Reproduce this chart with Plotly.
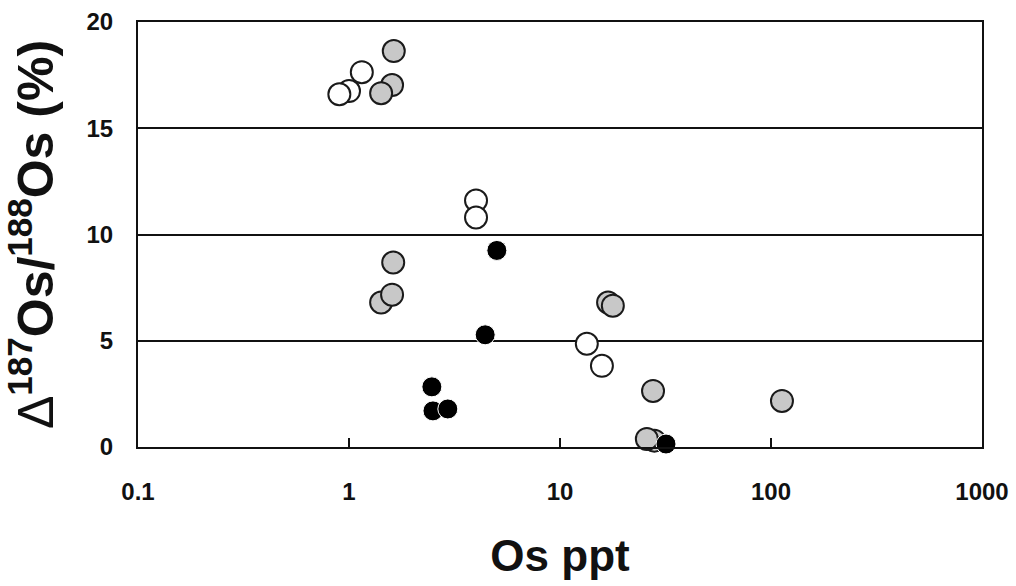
import plotly.graph_objects as go

# Data
gray_x = [1.60, 1.42, 1.63, 1.42, 1.60, 1.62, 16.9, 17.8, 27.6, 28.0, 25.8, 112.7]
gray_y = [17.03, 16.65, 18.63, 6.80, 7.17, 8.68, 6.80, 6.65, 2.64, 0.30, 0.38, 2.17]

open_x = [1.00, 0.90, 1.15, 4.0, 4.0, 13.4, 15.8]
open_y = [16.75, 16.60, 17.64, 11.6, 10.8, 4.86, 3.82]

black_x = [2.47, 2.50, 2.94, 4.42, 5.02, 31.8]
black_y = [2.83, 1.70, 1.79, 5.28, 9.25, 0.14]

x_ticks = [0.1, 1, 10, 100, 1000]
x_tick_labels = ["0.1", "1", "10", "100", "1000"]
y_ticks = [0, 5, 10, 15, 20]

FONT = "Liberation Sans, Arial, sans-serif"

fig = go.Figure()
fig.add_trace(go.Scatter(
    x=gray_x, y=gray_y, mode="markers", cliponaxis=False,
    marker=dict(size=22, color="#c8c8c8", line=dict(color="#1a1a1a", width=2)),
    showlegend=False))
fig.add_trace(go.Scatter(
    x=open_x, y=open_y, mode="markers", cliponaxis=False,
    marker=dict(size=22, color="white", line=dict(color="#1a1a1a", width=2)),
    showlegend=False))
fig.add_trace(go.Scatter(
    x=black_x, y=black_y, mode="markers", cliponaxis=False,
    marker=dict(size=20, color="black", line=dict(color="white", width=1)),
    showlegend=False))

fig.update_layout(
    width=1016, height=586,
    margin=dict(l=138, r=34, t=22, b=139),
    paper_bgcolor="white", plot_bgcolor="white",
    font=dict(family=FONT, color="#111111"),
)
fig.update_xaxes(
    type="log", range=[-1, 3], automargin=False,
    tickmode="array", tickvals=x_ticks, ticktext=x_tick_labels,
    ticks="inside", ticklen=9, tickwidth=1.5, tickcolor="#111111",
    showline=True, linecolor="#111111", linewidth=2, mirror=True,
    showgrid=False, zeroline=False,
    tickfont=dict(family=FONT, size=24, color="#111111", weight="bold"),
    ticklabelstandoff=22,
    title=dict(text="Os ppt", font=dict(family=FONT, size=44, color="#111111", weight="bold"),
               standoff=36),
)
fig.update_yaxes(
    range=[0, 20], tickmode="array", tickvals=y_ticks, automargin=False,
    ticks="", showline=True, linecolor="#111111", linewidth=2, mirror=True,
    showgrid=True, gridcolor="#111111", gridwidth=1.5, zeroline=False,
    tickfont=dict(family=FONT, size=24, color="#111111", weight="bold"),
    ticklabelstandoff=18,
    title=dict(text="<span style='font-weight:normal'>Δ</span><sup>187</sup>Os/<sup>188</sup>Os (%)",
               font=dict(family=FONT, size=50, color="#111111", weight="bold"),
               standoff=20),
)

fig.write_html("out.html")
